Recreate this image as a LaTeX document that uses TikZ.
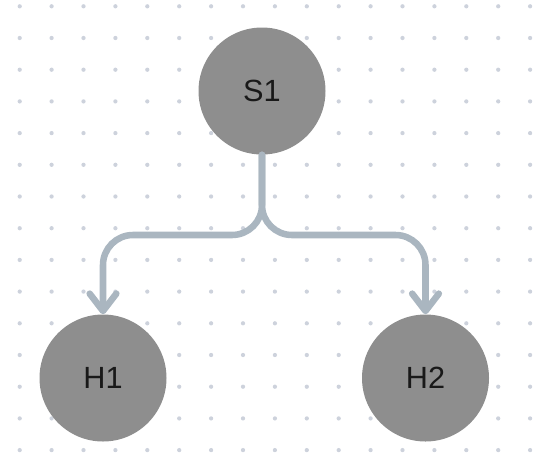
\documentclass[tikz,border=0pt]{standalone}
\usepackage{fontspec}
\setmainfont{Liberation Sans}
\usetikzlibrary{arrows.meta}
\definecolor{dotgray}{RGB}{205,210,220}
\definecolor{linkgray}{RGB}{170,182,192}
\definecolor{nodegray}{RGB}{142,142,142}
\begin{document}
\begin{tikzpicture}[x=0.75pt,y=-0.75pt,
    host/.style={circle, fill=nodegray, minimum size=95.25pt, inner sep=0pt, font=\fontsize{23}{27}\selectfont, text=black!90},
    link/.style={draw=linkgray, line width=4.9pt, rounded corners=22.5pt, line cap=round,
        -{Straight Barb[length=13pt,width=20pt,line cap=round,line join=round]}}]
    \useasboundingbox (0,0) rectangle (535,472);
    % Dot grid
    \foreach \i in {0,...,16}
        \foreach \j in {0,...,14}
            \fill[dotgray] (19.7+31.9*\i, 6.3+31.7*\j) circle (1.6pt);
    % Nodes
    \node[host] (S1) at (262,91) {S1};
    \node[host] (H1) at (103,378) {H1};
    \node[host] (H2) at (425.5,378) {H2};
    % Links
    \coordinate (split) at (262,235);
    \draw[link] (S1.south) -- (split) -- (split -| H1.north) -- (H1.north);
    \draw[link] (S1.south) -- (split) -- (split -| H2.north) -- (H2.north);
\end{tikzpicture}
\end{document}
